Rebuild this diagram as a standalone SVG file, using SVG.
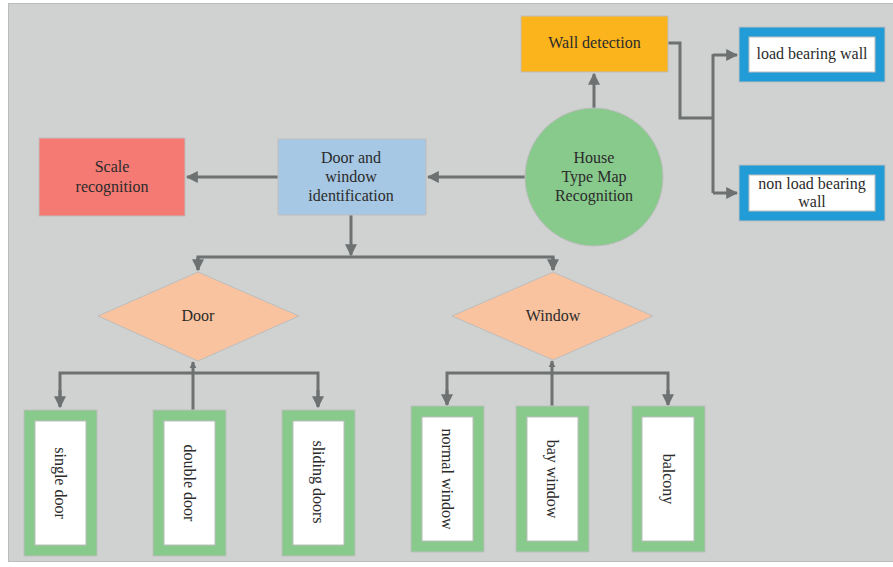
<svg xmlns="http://www.w3.org/2000/svg" width="893" height="567" viewBox="0 0 893 567">
<defs>
<style>
text{font-family:"Liberation Serif","Times New Roman",serif;font-size:16px;fill:#2b2b2b;text-anchor:middle;dominant-baseline:central}
.c{fill:none;stroke:#6e7171;stroke-width:3}
.g{fill:#88c98c;stroke:#bdbdbd;stroke-width:1}
.w{fill:#ffffff;stroke:#bdbdbd;stroke-width:1}
.b{fill:#219cd6;stroke:#bdbdbd;stroke-width:1}
</style>
<marker id="a" viewBox="0 0 10 10" refX="9" refY="5" markerWidth="4" markerHeight="4" orient="auto" markerUnits="strokeWidth">
<path d="M0,0 L10,5 L0,10 z" fill="#6e7171"/>
</marker>
<marker id="s" viewBox="0 0 10 10" refX="9" refY="5" markerWidth="2.4" markerHeight="2.4" orient="auto" markerUnits="strokeWidth">
<path d="M0,0 L10,5 L0,10 z" fill="#6e7171"/>
</marker>
</defs>
<rect x="0" y="0" width="893" height="567" fill="#ffffff"/>
<rect x="8.5" y="3.5" width="890" height="558" fill="#d0d2d1" stroke="#bcbcbc" stroke-width="1"/>

<g id="connectors">
<path class="c" d="M594,108 V74" marker-end="url(#a)"/>
<path class="c" d="M668,43 H680 V118 H713"/>
<path class="c" d="M713,54 V193"/>
<path class="c" d="M713,55 H737" marker-end="url(#a)"/>
<path class="c" d="M713,193 H737" marker-end="url(#a)"/>
<path class="c" d="M525,177 H428" marker-end="url(#a)"/>
<path class="c" d="M278,177 H187" marker-end="url(#a)"/>
<path class="c" d="M351,215 V255" marker-end="url(#a)"/>
<path class="c" d="M198,270 V257 H553 V270" />
<path class="c" d="M198,257 V270" marker-end="url(#a)"/>
<path class="c" d="M553,257 V270" marker-end="url(#a)"/>
<path class="c" d="M193,410 V362" marker-end="url(#s)"/>
<path class="c" d="M60,406 V373 H318 V406"/>
<path class="c" d="M60,390 V407" marker-end="url(#a)"/>
<path class="c" d="M318,390 V407" marker-end="url(#a)"/>
<path class="c" d="M552,406 V361" marker-end="url(#s)"/>
<path class="c" d="M447,404 V373 H668 V404"/>
<path class="c" d="M447,390 V405" marker-end="url(#a)"/>
<path class="c" d="M668,390 V405" marker-end="url(#a)"/>
</g>

<g id="wall-detection">
<rect x="521" y="16" width="147" height="56" fill="#fbb41b" stroke="#bdbdbd" stroke-width="1"/>
<text x="594.5" y="42">Wall detection</text>
</g>
<g id="load-bearing-wall">
<rect class="b" x="739" y="27" width="146" height="55"/>
<rect class="w" x="749" y="37" width="126" height="35"/>
<text x="812" y="53">load bearing wall</text>
</g>
<g id="non-load-bearing-wall">
<rect class="b" x="739" y="165" width="146" height="56"/>
<rect class="w" x="749" y="175" width="126" height="36"/>
<text x="812" y="183">non load bearing</text>
<text x="812" y="201">wall</text>
</g>
<g id="house-type-map-recognition">
<circle cx="594" cy="177" r="69" fill="#88c98c" stroke="#bdbdbd" stroke-width="1"/>
<text x="594" y="157">House</text>
<text x="594" y="176">Type Map</text>
<text x="594" y="195">Recognition</text>
</g>
<g id="door-window-identification">
<rect x="278" y="139" width="148" height="76" fill="#a6c8e4" stroke="#bdbdbd" stroke-width="1"/>
<text x="351" y="157">Door and</text>
<text x="351" y="176">window</text>
<text x="351" y="195">identification</text>
</g>
<g id="scale-recognition">
<rect x="39" y="138" width="146" height="78" fill="#f47a73" stroke="#bdbdbd" stroke-width="1"/>
<text x="112" y="166">Scale</text>
<text x="112" y="186">recognition</text>
</g>
<g id="door">
<polygon points="198,272 299,316 198,361 98,316" fill="#f9c39f" stroke="#bdbdbd" stroke-width="1"/>
<text x="198" y="315">Door</text>
</g>
<g id="window">
<polygon points="553,272 653,316 553,360 452,316" fill="#f9c39f" stroke="#bdbdbd" stroke-width="1"/>
<text x="553" y="315">Window</text>
</g>
<g id="single-door">
<rect class="g" x="24" y="410" width="73" height="146"/>
<rect class="w" x="35" y="421" width="51" height="124"/>
<text transform="translate(60,483) rotate(90)">single door</text>
</g>
<g id="double-door">
<rect class="g" x="153" y="410" width="73" height="146"/>
<rect class="w" x="164" y="421" width="51" height="124"/>
<text transform="translate(189,483) rotate(90)">double door</text>
</g>
<g id="sliding-doors">
<rect class="g" x="282" y="410" width="73" height="146"/>
<rect class="w" x="293" y="421" width="51" height="124"/>
<text transform="translate(318,482) rotate(90)">sliding doors</text>
</g>
<g id="normal-window">
<rect class="g" x="411" y="406" width="73" height="146"/>
<rect class="w" x="422" y="417" width="51" height="124"/>
<text transform="translate(447,479) rotate(90)">normal window</text>
</g>
<g id="bay-window">
<rect class="g" x="516" y="406" width="73" height="146"/>
<rect class="w" x="527" y="417" width="51" height="124"/>
<text transform="translate(552,479) rotate(90)">bay window</text>
</g>
<g id="balcony">
<rect class="g" x="632" y="406" width="73" height="146"/>
<rect class="w" x="642" y="417" width="52" height="124"/>
<text transform="translate(668,479) rotate(90)">balcony</text>
</g>
</svg>
